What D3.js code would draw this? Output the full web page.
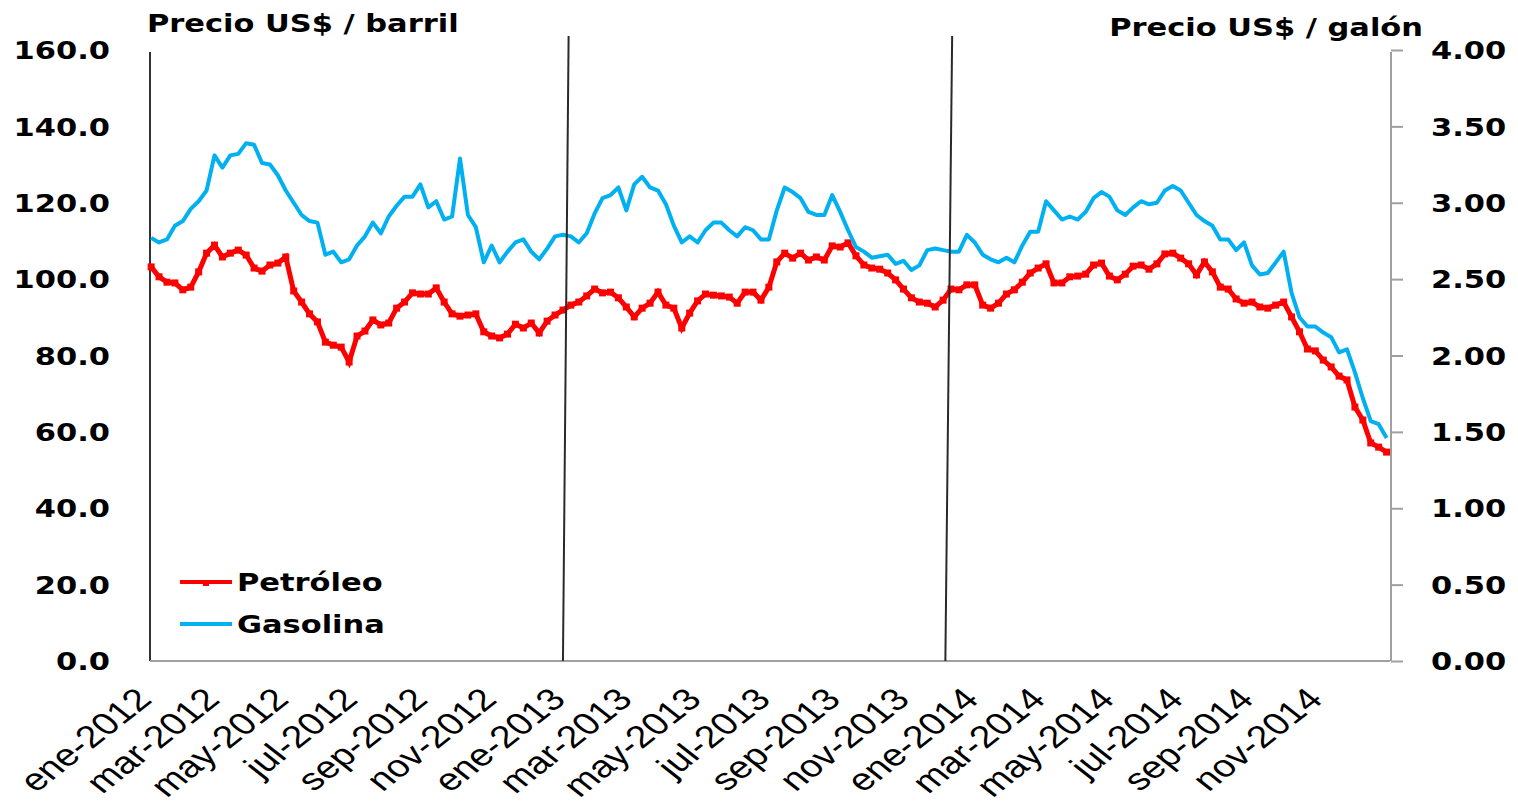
<!DOCTYPE html>
<html><head><meta charset="utf-8">
<script src="https://cdn.jsdelivr.net/npm/d3@7"></script>
<style>body{margin:0;background:#fff;overflow:hidden} svg{display:block}</style>
</head><body><svg id="c" width="1518" height="808"></svg>
<script>
// ---------- data ----------
const firstWeek = "2012-01-02";   // weekly observations (Mondays)
const petroleo = [
 103.2,100.6,99.2,99.0,97.2,97.9,101.9,106.8,108.9,105.8,
 106.8,107.6,106.3,102.9,102.1,103.7,104.2,105.8,96.9,94.0,
 90.9,88.8,83.5,82.7,82.2,78.3,85.1,86.4,89.3,88.0,
 88.5,92.4,94.0,96.4,96.1,96.1,97.7,94.0,90.9,90.3,
 90.6,90.9,86.2,85.1,84.6,85.6,88.2,87.2,88.5,85.9,
 89.0,90.6,91.9,93.2,94.0,95.6,97.4,96.4,96.6,95.1,
 92.7,90.1,92.4,93.7,96.6,93.2,92.4,87.2,91.1,94.3,
 96.1,95.8,95.6,95.3,93.7,96.6,96.6,94.5,97.9,104.5,
 106.8,105.5,106.8,105.0,105.8,105.0,108.7,108.4,109.5,106.1,
 103.7,102.9,102.6,101.6,99.8,97.4,95.1,94.0,93.7,92.7,
 94.5,97.4,97.2,98.5,98.5,93.2,92.4,93.7,96.1,97.2,
 99.2,101.6,102.9,104.0,99.0,99.0,100.6,100.8,101.3,103.7,
 104.2,100.8,99.8,101.3,103.4,103.7,102.6,104.0,106.6,106.8,
 105.5,104.0,101.1,104.5,101.9,97.9,97.4,94.8,93.7,94.0,
 92.7,92.4,93.2,94.0,90.1,86.2,81.7,81.2,78.8,77.0,
 74.6,73.6,66.5,63.1,57.1,56.0,54.7
];
const gasolina = [
 2.77,2.74,2.76,2.85,2.88,2.96,3.01,3.08,3.31,3.23,
 3.31,3.32,3.39,3.38,3.26,3.25,3.18,3.08,3.00,2.92,
 2.88,2.87,2.66,2.68,2.61,2.63,2.72,2.78,2.87,2.80,
 2.91,2.98,3.04,3.04,3.12,2.97,3.01,2.89,2.91,3.29,
 2.92,2.84,2.61,2.72,2.61,2.68,2.74,2.76,2.68,2.63,
 2.70,2.78,2.79,2.78,2.74,2.80,2.93,3.03,3.05,3.10,
 2.95,3.12,3.17,3.10,3.08,2.99,2.85,2.74,2.78,2.74,
 2.82,2.87,2.87,2.82,2.78,2.84,2.82,2.76,2.76,2.95,
 3.10,3.07,3.03,2.94,2.92,2.92,3.05,2.94,2.82,2.71,
 2.68,2.64,2.65,2.66,2.60,2.62,2.56,2.59,2.69,2.70,
 2.69,2.68,2.68,2.79,2.74,2.66,2.63,2.61,2.64,2.61,
 2.72,2.81,2.81,3.01,2.95,2.89,2.91,2.89,2.94,3.03,
 3.07,3.04,2.95,2.92,2.97,3.01,2.99,3.00,3.08,3.11,
 3.08,3.00,2.92,2.88,2.85,2.76,2.76,2.69,2.74,2.59,
 2.53,2.54,2.61,2.68,2.41,2.25,2.19,2.19,2.15,2.12,
 2.02,2.04,1.89,1.72,1.57,1.55,1.46
];
const seriesNames = ["Petróleo", "Gasolina"];
const leftTicks = [0, 20, 40, 60, 80, 100, 120, 140, 160];
const rightTicks = [0, 0.5, 1, 1.5, 2, 2.5, 3, 3.5, 4];
const xTickLabels = ["ene-2012","mar-2012","may-2012","jul-2012","sep-2012","nov-2012",
  "ene-2013","mar-2013","may-2013","jul-2013","sep-2013","nov-2013",
  "ene-2014","mar-2014","may-2014","jul-2014","sep-2014","nov-2014"];
const titles = ["Precio US$ / barril", "Precio US$ / galón"];
const dividers = [ {top: "2013-01-05", bottom: "2012-12-31"},
                   {top: "2013-12-10", bottom: "2013-12-04"} ];

// ---------- layout ----------
const SX = 1.27;            // horizontal stretch of all lettering
const L = 150, R = 1390, T = 50, B = 661;
const RED = "#ff0000", BLUE = "#00b0f0";
const boldFont = "'DejaVu Sans', Verdana, sans-serif";
const svg = d3.select("#c");

const parse = d3.timeParse("%Y-%m-%d");
const start = parse(firstWeek);
const dates = petroleo.map((_, i) => d3.timeDay.offset(start, 7 * i));

const x = d3.scaleTime().domain([new Date(2012, 0, 1), new Date(2015, 0, 1)]).range([L, R]);
const yL = d3.scaleLinear().domain([0, 160]).range([B, T]);
const yR = d3.scaleLinear().domain([0, 4]).range([B, T]);

// left axis
const gL = svg.append("g").attr("transform", `translate(${L},0)`)
  .call(d3.axisLeft(yL).tickValues(leftTicks).tickSize(0).tickFormat(d => d.toFixed(1)));
gL.select(".domain").attr("stroke", "#333").attr("stroke-width", 2).attr("d", `M0,${T+2}V${B}`);
gL.selectAll(".tick text").attr("x", 0).attr("dy", "0.36em")
  .attr("transform", `translate(-40,0) scale(${SX},1)`)
  .attr("font-family", boldFont).attr("font-weight", "bold").attr("font-size", 24).attr("fill", "#000");

// right axis
const gR = svg.append("g").attr("transform", `translate(${R + 1},0)`)
  .call(d3.axisRight(yR).tickValues(rightTicks).tickSize(12).tickFormat(d => d.toFixed(2)));
gR.select(".domain").attr("stroke", "#a0a0a0").attr("stroke-width", 2).attr("d", `M0,${T+2}V${B}`);
gR.selectAll(".tick line").attr("stroke", "#a0a0a0").attr("stroke-width", 2);
gR.selectAll(".tick text").attr("x", 0).attr("dy", "0.36em")
  .attr("transform", `translate(40,0) scale(${SX},1)`)
  .attr("font-family", boldFont).attr("font-weight", "bold").attr("font-size", 24).attr("fill", "#000");

// bottom axis
const tickDates = d3.timeMonth.every(2).range(new Date(2012, 0, 1), new Date(2015, 0, 1));
const gB = svg.append("g").attr("transform", `translate(0,${B})`)
  .call(d3.axisBottom(x).tickValues(tickDates).tickSize(0).tickFormat((d, i) => xTickLabels[i]));
gB.select(".domain").attr("stroke", "#a0a0a0").attr("stroke-width", 2).attr("d", `M${L},0H${R}`);
gB.selectAll(".tick text").attr("y", 0).attr("dy", 0).attr("text-anchor", "end")
  .attr("transform", `translate(3,40) scale(${SX},1) rotate(-45)`)
  .attr("font-family", "'Liberation Sans', Arial, sans-serif").attr("font-size", 31).attr("fill", "#000");

// series
const lineP = d3.line().x((d, i) => x(dates[i])).y(d => yL(d));
const lineG = d3.line().x((d, i) => x(dates[i])).y(d => yR(d));
svg.append("path").datum(petroleo).attr("d", lineP).attr("fill", "none")
  .attr("stroke", RED).attr("stroke-width", 5).attr("stroke-linejoin", "miter");
svg.append("g").selectAll("rect").data(petroleo).join("rect")
  .attr("x", (d, i) => x(dates[i]) - 3.5).attr("y", d => yL(d) - 3.5)
  .attr("width", 7).attr("height", 7).attr("fill", RED);
svg.append("path").datum(gasolina).attr("d", lineG).attr("fill", "none")
  .attr("stroke", BLUE).attr("stroke-width", 4).attr("stroke-linejoin", "round");

// dividers
svg.append("g").selectAll("line").data(dividers).join("line")
  .attr("x1", d => x(parse(d.top))).attr("y1", 36)
  .attr("x2", d => x(parse(d.bottom))).attr("y2", B)
  .attr("stroke", "#2a2a2a").attr("stroke-width", 2);

// titles
svg.append("text").attr("transform", `translate(147,32) scale(${SX},1)`)
  .attr("font-family", boldFont).attr("font-weight", "bold").attr("font-size", 24).text(titles[0]);
svg.append("text").attr("transform", `translate(1423,36) scale(${SX},1)`).attr("text-anchor", "end")
  .attr("font-family", boldFont).attr("font-weight", "bold").attr("font-size", 24).text(titles[1]);

// legend
const leg = svg.append("g");
[[RED, 582], [BLUE, 624]].forEach(([c, yy], i) => {
  leg.append("line").attr("x1", 180).attr("x2", 232).attr("y1", yy).attr("y2", yy)
    .attr("stroke", c).attr("stroke-width", 4);
  if (i === 0) leg.append("rect").attr("x", 203).attr("y", yy - 2).attr("width", 6).attr("height", 6).attr("fill", c);
  leg.append("text").attr("transform", `translate(237,${yy}) scale(${SX},1)`).attr("dy", "0.36em")
    .attr("font-family", boldFont).attr("font-weight", "bold").attr("font-size", 24).text(seriesNames[i]);
});
</script></body></html>
